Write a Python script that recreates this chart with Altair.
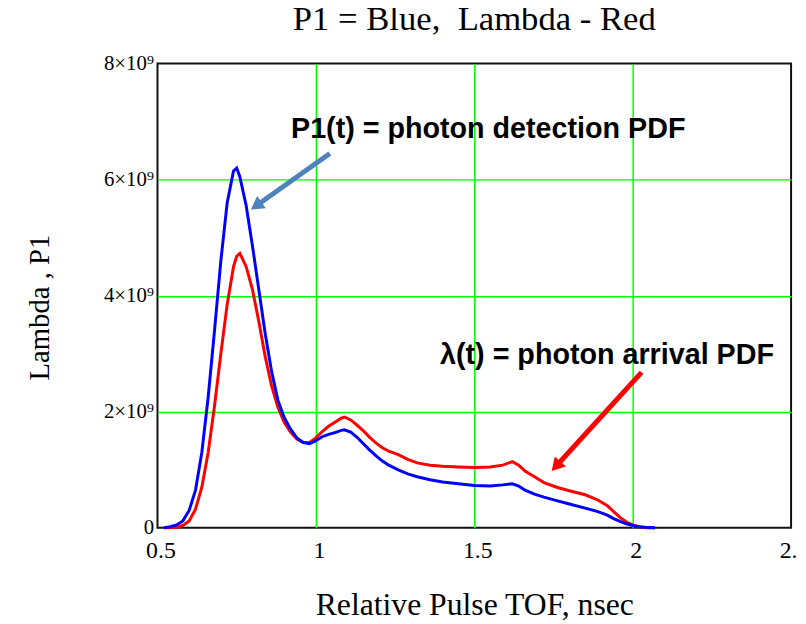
import altair as alt
import pandas as pd

# ---- data ----
tof_ns = [0.52, 0.54, 0.56, 0.58, 0.60, 0.62, 0.64, 0.66, 0.68, 0.70, 0.72, 0.74,
          0.75, 0.76, 0.78, 0.80, 0.82, 0.84, 0.86, 0.88, 0.90, 0.92, 0.94, 0.96,
          0.98, 1.00, 1.02, 1.04, 1.06, 1.08, 1.09, 1.11, 1.13, 1.15, 1.17, 1.19,
          1.21, 1.23, 1.26, 1.29, 1.32, 1.36, 1.40, 1.45, 1.50, 1.55, 1.59, 1.62,
          1.64, 1.66, 1.69, 1.72, 1.76, 1.80, 1.85, 1.89, 1.92, 1.94, 1.96, 1.98,
          2.00, 2.02, 2.04, 2.07]
p1_e9 = [0.00, 0.02, 0.05, 0.12, 0.30, 0.65, 1.30, 2.25, 3.40, 4.60, 5.60, 6.15,
         6.20, 6.05, 5.55, 4.85, 4.10, 3.35, 2.70, 2.20, 1.90, 1.70, 1.55, 1.47,
         1.45, 1.50, 1.57, 1.61, 1.64, 1.68, 1.69, 1.65, 1.56, 1.45, 1.34, 1.24,
         1.15, 1.08, 1.00, 0.93, 0.88, 0.83, 0.79, 0.76, 0.73, 0.72, 0.74, 0.76,
         0.72, 0.65, 0.58, 0.53, 0.47, 0.41, 0.34, 0.28, 0.22, 0.16, 0.11, 0.07,
         0.04, 0.02, 0.01, 0.00]
lambda_e9 = [0.00, 0.00, 0.01, 0.04, 0.12, 0.32, 0.70, 1.30, 2.10, 3.00, 3.85, 4.50,
             4.68, 4.73, 4.50, 4.10, 3.55, 2.95, 2.45, 2.08, 1.82, 1.65, 1.53, 1.47,
             1.47, 1.55, 1.66, 1.75, 1.82, 1.89, 1.91, 1.86, 1.77, 1.67, 1.56, 1.46,
             1.38, 1.32, 1.26, 1.18, 1.12, 1.08, 1.06, 1.05, 1.04, 1.05, 1.08, 1.14,
             1.08, 0.98, 0.88, 0.78, 0.70, 0.64, 0.57, 0.48, 0.38, 0.28, 0.18, 0.10,
             0.05, 0.02, 0.00, 0.00]

x_ticks = [0.5, 1, 1.5, 2, 2.5]
y_ticks_e9 = [0, 2, 4, 6, 8]

title_text = "P1 = Blue,\u00a0 Lambda - Red"
x_title = "Relative Pulse TOF, nsec"
y_title = "Lambda , P1"

# annotations (data coordinates)
ann_text = ["P1(t) = photon detection PDF", "λ(t) = photon arrival PDF"]
ann_x = [1.544, 1.919]
ann_y_e9 = [6.72, 2.816]

arrow_x = [1.044, 2.028]
arrow_y_e9 = [6.45, 2.68]
arrow_x2 = [0.8116, 1.758]
arrow_y2_e9 = [5.548, 1.061]
arrow_angle = [234.6, 222.3]
arrow_color = ["#4F81BD", "#FF0000"]

E9 = 1e9
curve = pd.DataFrame({
    "t": tof_ns,
    "P1": [v * E9 for v in p1_e9],
    "Lambda": [v * E9 for v in lambda_e9],
})
ann = pd.DataFrame({"text": ann_text, "x": ann_x, "y": [v * E9 for v in ann_y_e9]})
arr = pd.DataFrame({
    "x": arrow_x, "y": [v * E9 for v in arrow_y_e9],
    "x2": arrow_x2, "y2": [v * E9 for v in arrow_y2_e9],
    "angle": arrow_angle, "color": arrow_color,
})

GREEN = "#00FF00"
xscale = alt.Scale(domain=[0.5, 2.5], nice=False, zero=False)
yscale = alt.Scale(domain=[0, 8e9], nice=False)

x_axis = alt.Axis(
    values=x_ticks, title=x_title, grid=True,
    gridColor={"condition": {"test": "datum.value <= 0.5 || datum.value >= 2.5", "value": "transparent"}, "value": GREEN},
    gridWidth=1.5, ticks=False, domain=False, labelFlush=False,
    labelFont="Liberation Serif", labelFontSize=24, labelColor="#000", labelPadding=11,
    labelOffset=3, labelExpr="datum.value == 1 || datum.value == 2 ? format(datum.value, 'd') : format(datum.value, '.1f')",
    titleFont="Liberation Serif", titleFontSize=32, titleFontWeight="normal", titleColor="#000",
    titleX=320, titleY=88, titleBaseline="alphabetic", titleAlign="center",
)
y_axis = alt.Axis(
    values=[v * E9 for v in y_ticks_e9], title=y_title, grid=True,
    gridColor={"condition": {"test": "datum.value <= 0 || datum.value >= 8e9", "value": "transparent"}, "value": GREEN},
    gridWidth=1.5, ticks=False, domain=False, labelFlush=False,
    labelFont="Liberation Serif", labelFontSize=21, labelColor="#000", labelPadding=4,
    labelExpr="datum.value == 0 ? '0' : format(datum.value / 1e9, 'd') + '×10⁹'",
    titleFont="Liberation Serif", titleFontSize=29, titleFontWeight="normal", titleColor="#000",
    titleX=-119, titleY=246, titleAngle=-90, titleAlign="center", titleBaseline="middle",
)

base = alt.Chart(curve)
red = base.mark_line(color="#FF0000", strokeWidth=3).encode(
    x=alt.X("t:Q", scale=xscale, axis=x_axis),
    y=alt.Y("Lambda:Q", scale=yscale, axis=y_axis),
)
blue = base.mark_line(color="#0000FF", strokeWidth=3).encode(
    x=alt.X("t:Q", scale=xscale),
    y=alt.Y("P1:Q", scale=yscale),
)

arrow_lines = alt.Chart(arr).mark_rule(strokeWidth=5).encode(
    x="x:Q", y="y:Q", x2="x2:Q", y2="y2:Q",
    color=alt.Color("color:N", scale=None),
)
arrow_heads = alt.Chart(arr).mark_point(shape="triangle-up", filled=True, size=230, opacity=1).encode(
    x="x2:Q", y="y2:Q",
    angle=alt.Angle("angle:Q", scale=None),
    color=alt.Color("color:N", scale=None),
)
labels = alt.Chart(ann).mark_text(
    font="Liberation Sans", fontSize=29, fontWeight="bold", color="#000",
    align="center", baseline="alphabetic",
).encode(x="x:Q", y="y:Q", text="text:N")

chart = alt.layer(red, blue, arrow_lines, arrow_heads, labels).properties(
    width=640, height=469,
    title=alt.TitleParams(title_text, font="Liberation Serif", fontSize=35, fontWeight="normal",
                          color="#000", anchor="middle", frame="group", baseline="bottom",
                          offset=16, dy=35),
    autosize=alt.AutoSizeParams(type="none"),
    padding={"left": 151, "top": 53, "right": 7, "bottom": 92},
).configure(background="white").configure_view(stroke="#111", strokeWidth=2)

chart.save("out.html", embed_options={"renderer": "svg", "actions": False})
